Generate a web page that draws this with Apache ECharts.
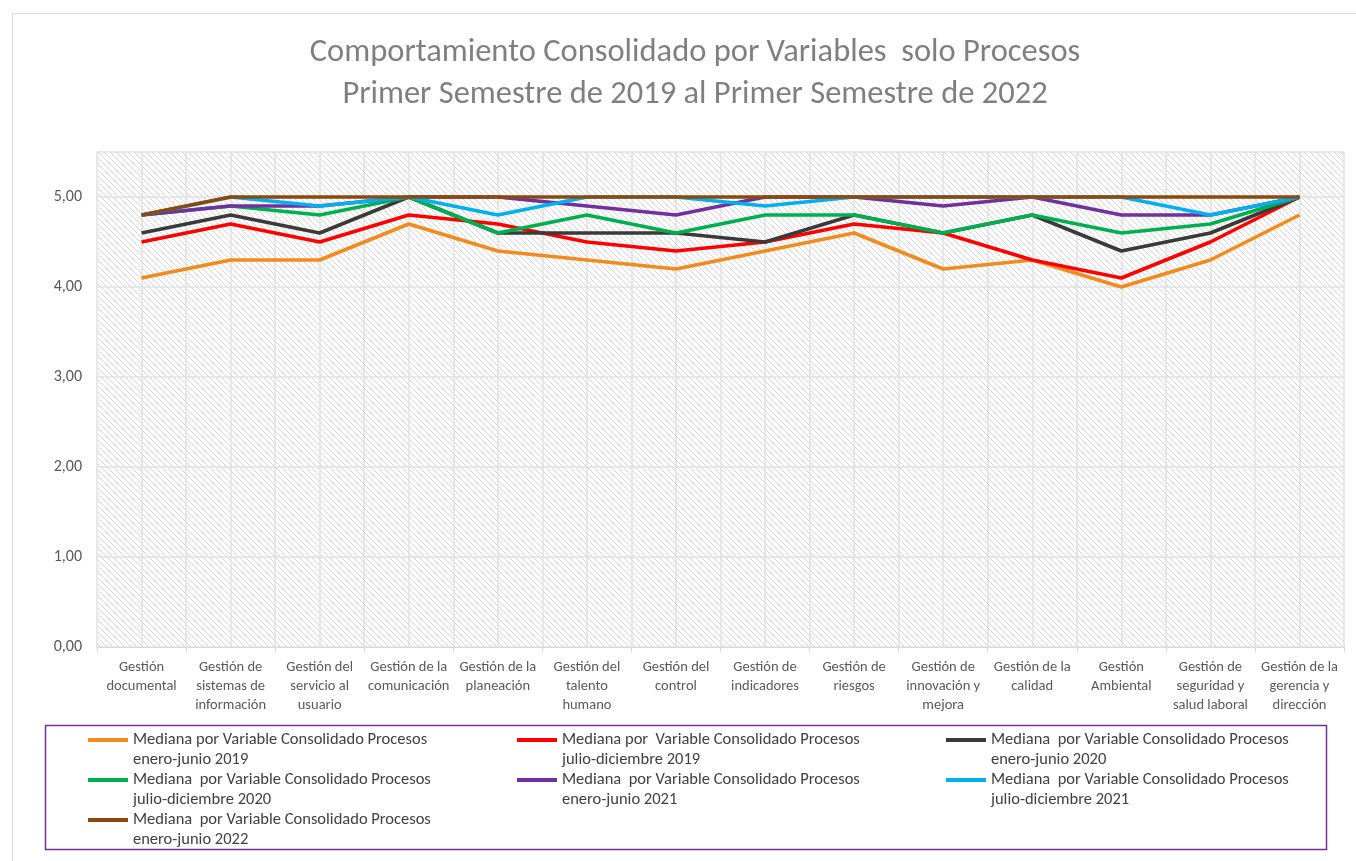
<!DOCTYPE html>
<html>
<head>
<meta charset="utf-8">
<script src="https://cdn.jsdelivr.net/npm/echarts@6/dist/echarts.min.js"></script>
<style>
  html, body { margin: 0; padding: 0; background: #fff; }
  #frame { position: absolute; left: 12px; top: 13px; width: 1360px; height: 860px; border: 1px solid #d9d9d9; box-sizing: border-box; }
  #chart { width: 1356px; height: 861px; position: relative; }
</style>
</head>
<body>
<div id="frame"></div>
<div id="chart"></div>
<script>
const categories = [
  'Gestión\ndocumental', 'Gestión de\nsistemas de\ninformación', 'Gestión del\nservicio al\nusuario',
  'Gestión de la\ncomunicación', 'Gestión de la\nplaneación', 'Gestión del\ntalento\nhumano',
  'Gestión del\ncontrol', 'Gestión de\nindicadores', 'Gestión de\nriesgos',
  'Gestión de\ninnovación y\nmejora', 'Gestión de la\ncalidad', 'Gestión\nAmbiental',
  'Gestión de\nseguridad y\nsalud laboral', 'Gestión de la\ngerencia y\ndirección'
];

const seriesNames = [
  'Mediana por Variable Consolidado Procesos\nenero-junio 2019',
  'Mediana por  Variable Consolidado Procesos\njulio-diciembre 2019',
  'Mediana  por Variable Consolidado Procesos\nenero-junio 2020',
  'Mediana  por Variable Consolidado Procesos\njulio-diciembre 2020',
  'Mediana  por Variable Consolidado Procesos\nenero-junio 2021',
  'Mediana  por Variable Consolidado Procesos\njulio-diciembre 2021',
  'Mediana  por Variable Consolidado Procesos\nenero-junio 2022'
];
const seriesColors = ['#f28a1e', '#ff0000', '#3a3a3a', '#00b050', '#7030a0', '#00b0f0', '#8b4a0c'];

const eneJun2019 = [4.1, 4.3, 4.3, 4.7, 4.4, 4.3, 4.2, 4.4, 4.6, 4.2, 4.3, 4.0, 4.3, 4.8];
const julDic2019 = [4.5, 4.7, 4.5, 4.8, 4.7, 4.5, 4.4, 4.5, 4.7, 4.6, 4.3, 4.1, 4.5, 5.0];
const eneJun2020 = [4.6, 4.8, 4.6, 5.0, 4.6, 4.6, 4.6, 4.5, 4.8, 4.6, 4.8, 4.4, 4.6, 5.0];
const julDic2020 = [4.8, 4.9, 4.8, 5.0, 4.6, 4.8, 4.6, 4.8, 4.8, 4.6, 4.8, 4.6, 4.7, 5.0];
const eneJun2021 = [4.8, 4.9, 4.9, 5.0, 5.0, 4.9, 4.8, 5.0, 5.0, 4.9, 5.0, 4.8, 4.8, 5.0];
const julDic2021 = [4.8, 5.0, 4.9, 5.0, 4.8, 5.0, 5.0, 4.9, 5.0, 5.0, 5.0, 5.0, 4.8, 5.0];
const eneJun2022 = [4.8, 5.0, 5.0, 5.0, 5.0, 5.0, 5.0, 5.0, 5.0, 5.0, 5.0, 5.0, 5.0, 5.0];

const allValues = [eneJun2019, julDic2019, eneJun2020, julDic2020, eneJun2021, julDic2021, eneJun2022];
const yTicks = [0, 1, 2, 3, 4, 5];

// hatched plot background
const hatch = document.createElement('canvas');
hatch.width = 6; hatch.height = 6;
const hctx = hatch.getContext('2d');
hctx.fillStyle = '#ffffff';
hctx.fillRect(0, 0, 6, 6);
hctx.strokeStyle = '#d4d4d4';
hctx.lineWidth = 1;
hctx.beginPath();
hctx.moveTo(-1, -1); hctx.lineTo(7, 7);
hctx.moveTo(-1, 5); hctx.lineTo(1, 7);
hctx.moveTo(5, -1); hctx.lineTo(7, 1);
hctx.stroke();

const font = 'Carlito, Lato, "Open Sans", sans-serif';

// legend line sitting next to the first text line
const legendIcon = 'path://M0,8L40,8L40,12L0,12Z M0,0L0.01,0L0,0.01Z M0,40L0.01,40L0,40.01Z';

const chart = echarts.init(document.getElementById('chart'));

const option = {
  animation: false,
  textStyle: { fontFamily: font },
  title: {
    text: 'Comportamiento Consolidado por Variables  solo Procesos\nPrimer Semestre de 2019 al Primer Semestre de 2022',
    left: 690, top: 27, textAlign: 'center',
    textStyle: { fontFamily: font, fontSize: 32.5, fontWeight: 'normal', color: '#7f7f7f', lineHeight: 42 }
  },
  grid: {
    left: 97, right: 12, top: 152, bottom: 214,
    show: true, borderWidth: 0,
    backgroundColor: { image: hatch, repeat: 'repeat' }
  },
  legend: {
    left: 83, top: 725, width: 1300,
    itemWidth: 40, itemHeight: 40, itemGap: 0,
    icon: legendIcon,
    data: seriesNames,
    textStyle: {
      fontFamily: font, fontSize: 16.5, color: '#404040', lineHeight: 20,
      width: 384
    }
  },
  xAxis: [{
    type: 'category',
    data: categories,
    boundaryGap: true,
    axisLine: { lineStyle: { color: '#d9d9d9', width: 1 } },
    axisTick: { show: true, length: 5, lineStyle: { color: '#d9d9d9' } },
    axisLabel: { fontFamily: font, fontSize: 14.5, color: '#595959', lineHeight: 19, margin: 11, interval: 0 },
    splitLine: { show: false }
  }, {
    type: 'value',
    min: -0.5, max: 13.5, interval: 0.5,
    show: true,
    axisLine: { show: false }, axisTick: { show: false }, axisLabel: { show: false },
    splitLine: { show: true, lineStyle: { color: '#e0e0e0', width: 1.5 } }
  }],
  yAxis: {
    type: 'value',
    min: 0, max: 5.5, interval: 1,
    axisLine: { show: false },
    axisTick: { show: false },
    axisLabel: {
      fontFamily: font, fontSize: 16, color: '#595959', margin: 15,
      showMaxLabel: false,
      formatter: v => yTicks.includes(v) ? v.toFixed(2).replace('.', ',') : ''
    },
    splitLine: { lineStyle: { color: '#e0e0e0', width: 1.5 } }
  },
  series: allValues.map((vals, i) => ({
    name: seriesNames[i],
    type: 'line',
    xAxisIndex: 0,
    data: vals,
    symbol: 'none',
    color: seriesColors[i],
    lineStyle: { width: 3.6, color: seriesColors[i] },
    z: 2 + i
  })),
  graphic: [{
    type: 'rect',
    shape: { x: 45.5, y: 725.5, width: 1281, height: 124 },
    style: { fill: 'none', stroke: '#7030a0', lineWidth: 1.5 },
    silent: true
  }]
};

chart.setOption(option);
</script>
</body>
</html>
